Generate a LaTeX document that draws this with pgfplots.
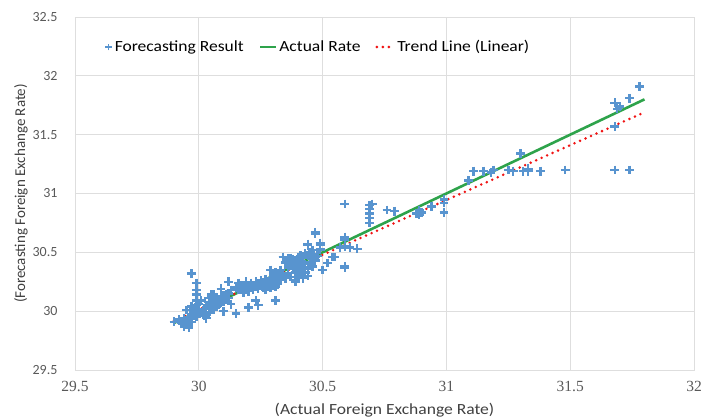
\documentclass[border=0pt]{standalone}
\usepackage{pgfplots}
\pgfplotsset{compat=1.18}
\usepackage{fontspec}
\setmainfont{Carlito}
\newfontfamily\widefont[FakeStretch=1.13]{Carlito}
\newfontfamily\xtickfont{Liberation Serif}
\definecolor{ptblue}{RGB}{88,148,207}
\definecolor{lgreen}{RGB}{46,163,75}
\definecolor{tred}{RGB}{240,20,20}
\definecolor{gridgray}{RGB}{222,222,222}
\definecolor{tickgray}{RGB}{89,89,89}
\definecolor{labgray}{RGB}{64,64,64}
\begin{document}
\begin{tikzpicture}
\begin{axis}[
  name=ax,
  scale only axis, width=619pt, height=353pt,
  xmin=29.5, xmax=32, ymin=29.5, ymax=32.5,
  xtick={29.5,30,30.5,31,31.5,32},
  ytick={29.5,30,30.5,31,31.5,32,32.5},
  grid=major, grid style={draw=gridgray, line width=0.8pt},
  axis line style={draw=gridgray, line width=0.8pt},
  major tick length=0pt,
  /pgf/number format/assume math mode=true,
  xticklabel style={font=\xtickfont\fontsize{15.5}{15.5}\selectfont, text=tickgray, yshift=-8pt},
  yticklabel style={font=\fontsize{14}{14}\selectfont, text=tickgray, xshift=-14pt},
  xlabel={(Actual Foreign Exchange Rate)},
  ylabel={(Forecasting Foreign Exchange Rate)},
  xlabel style={font=\widefont\fontsize{15.5}{15.5}\selectfont, text=labgray, yshift=-4pt},
  ylabel style={font=\fontsize{15}{15}\selectfont, text=labgray, yshift=-2pt},
  legend style={at={(rel axis cs:0.047,0.915)}, anchor=west, draw=none, fill=none,
    font=\widefont\fontsize{15.5}{15.5}\selectfont, text=black, inner sep=0pt,
    /tikz/every even column/.append style={column sep=13pt}},
  legend columns=-1,
]
\addplot[only marks, mark=+, mark size=4.4pt, mark options={line width=2.4pt, draw=ptblue},
  legend image code/.code={\draw[ptblue, line width=1.9pt] (0pt,-3.3pt)--(0pt,3.3pt) (-3.3pt,0pt)--(3.3pt,0pt);}]
table[row sep=\\]{
x y\\
31.78 31.91\\ 31.74 31.81\\ 31.68 31.77\\ 31.69 31.72\\ 31.70 31.74\\ 31.68 31.57\\
31.68 31.20\\ 31.74 31.20\\ 31.48 31.20\\ 31.38 31.19\\ 31.33 31.19\\ 31.33 31.21\\
31.31 31.19\\ 31.30 31.34\\ 31.27 31.19\\ 31.25 31.20\\ 31.19 31.20\\ 31.18 31.18\\
31.15 31.19\\ 31.11 31.19\\ 31.09 31.11\\
30.99 30.95\\ 30.99 30.92\\ 30.99 30.84\\ 30.94 30.89\\ 30.89 30.86\\ 30.88 30.83\\
30.89 30.82\\ 30.90 30.84\\ 30.79 30.85\\ 30.76 30.86\\ 30.69 30.90\\ 30.70 30.91\\
30.69 30.87\\ 30.69 30.83\\ 30.69 30.79\\ 30.69 30.75\\ 30.59 30.91\\ 30.64 30.53\\
30.61 30.54\\ 30.59 30.55\\ 30.57 30.54\\ 30.59 30.61\\ 30.59 30.63\\ 30.59 30.37\\
30.54 30.46\\ 30.52 30.41\\ 30.50 30.35\\ 30.47 30.67\\ 30.49 30.57\\ 30.44 30.57\\
30.49 30.58\\ 30.49 30.52\\ 30.46 30.52\\
30.34 30.46\\ 30.36 30.45\\ 30.38 30.44\\ 30.40 30.46\\ 30.42 30.45\\ 30.44 30.47\\
30.46 30.45\\ 30.35 30.42\\ 30.37 30.40\\ 30.39 30.41\\ 30.41 30.42\\ 30.43 30.40\\
30.45 30.42\\ 30.36 30.37\\ 30.38 30.36\\ 30.40 30.38\\ 30.42 30.37\\ 30.44 30.36\\
30.46 30.38\\ 30.39 30.33\\ 30.41 30.32\\ 30.43 30.33\\ 30.40 30.29\\ 30.42 30.28\\
30.44 30.30\\ 30.39 30.26\\ 30.33 30.35\\ 30.32 30.31\\ 30.31 30.33\\ 30.34 30.30\\
30.36 30.32\\ 30.35 30.28\\ 30.37 30.29\\ 30.47 30.43\\ 30.48 30.47\\ 30.45 30.50\\
30.43 30.49\\ 30.41 30.47\\
30.16 30.18\\ 30.18 30.19\\ 30.20 30.20\\ 30.22 30.21\\ 30.24 30.22\\ 30.26 30.23\\
30.28 30.24\\ 30.30 30.25\\ 30.32 30.26\\ 30.17 30.22\\ 30.19 30.24\\ 30.21 30.23\\
30.23 30.25\\ 30.25 30.26\\ 30.27 30.27\\ 30.29 30.28\\ 30.31 30.28\\ 30.33 30.27\\
30.18 30.16\\ 30.20 30.17\\ 30.22 30.18\\ 30.24 30.19\\ 30.26 30.20\\ 30.28 30.21\\
30.30 30.22\\ 30.32 30.23\\ 30.27 30.18\\ 30.29 30.20\\ 30.31 30.21\\ 30.15 30.20\\
30.13 30.18\\
29.92 29.93\\ 29.94 29.94\\ 29.95 29.92\\ 29.96 29.95\\ 29.97 29.97\\ 29.98 29.96\\
29.93 29.90\\ 29.95 29.89\\ 29.97 29.91\\ 29.99 29.98\\ 30.00 30.00\\ 30.01 29.99\\
30.02 30.02\\ 30.03 30.03\\ 30.04 30.05\\ 30.05 30.06\\ 30.06 30.08\\ 30.07 30.09\\
30.08 30.10\\ 30.09 30.12\\ 30.10 30.13\\ 30.11 30.14\\ 30.12 30.15\\ 30.04 30.11\\
30.05 30.13\\ 30.06 30.14\\ 30.07 30.12\\ 30.08 30.06\\ 30.09 30.07\\ 30.10 30.08\\
30.11 30.10\\ 30.12 30.11\\ 30.03 29.97\\ 30.02 29.96\\ 30.04 29.99\\ 30.06 30.01\\
30.07 30.04\\ 30.13 30.06\\ 29.98 30.02\\ 29.97 30.04\\ 30.00 30.06\\ 30.01 30.09\\
29.90 29.91\\ 29.92 29.92\\ 29.94 29.90\\ 29.94 29.87\\ 29.96 29.86\\ 29.96 29.92\\
29.95 30.01\\ 29.97 29.95\\ 29.97 30.32\\ 29.99 30.24\\ 29.99 30.18\\ 29.99 30.14\\
29.99 30.09\\ 29.99 30.05\\ 29.98 29.99\\ 29.99 29.95\\ 30.02 30.02\\ 30.02 29.98\\
30.03 29.94\\ 30.04 30.08\\ 30.05 30.14\\ 30.04 30.11\\ 30.06 30.09\\ 30.07 30.05\\
30.06 30.04\\ 30.09 30.19\\ 30.10 30.00\\ 30.12 30.25\\ 30.13 30.18\\ 30.15 29.98\\
30.16 30.24\\ 30.17 30.21\\ 30.19 30.25\\ 30.21 30.24\\ 30.20 30.03\\ 30.23 30.25\\
30.23 30.09\\ 30.24 30.05\\ 30.25 30.26\\ 30.27 30.25\\ 30.29 30.35\\ 30.31 30.09\\
30.30 30.29\\ 30.33 30.32\\ 30.34 30.46\\ 30.35 30.41\\ 30.37 30.45\\ 30.38 30.38\\
30.39 30.29\\ 30.39 30.25\\ 30.40 30.35\\ 30.42 30.42\\ 30.44 30.56\\ 30.45 30.49\\
30.47 30.66\\ 30.47 30.46\\ 30.49 30.53\\ 30.49 30.56\\ 30.50 30.35\\ 30.52 30.41\\
30.55 30.46\\ 30.59 30.62\\ 30.59 30.38\\
};
\addlegendentry{Forecasting Result}
\addplot[lgreen, line width=2.6pt,
  legend image code/.code={\draw[lgreen, line width=2.6pt] (0pt,0pt)--(16pt,0pt);}]
coordinates {(29.9,29.9) (31.8,31.8)};
\addlegendentry{Actual Rate}
\addplot[tred, line width=2.8pt, line cap=round, dash pattern=on 0pt off 6pt,
  legend image code/.code={\draw[tred, line width=2.8pt, line cap=round, dash pattern=on 0pt off 6pt] (1pt,0pt)--(18pt,0pt);}]
coordinates {(29.9,29.92) (31.8,31.69)};
\addlegendentry{Trend Line (Linear)}
\end{axis}
\pgfresetboundingbox
\path (ax.south west) ++(-75pt,-50pt) rectangle ++(701pt,420pt);
\end{tikzpicture}
\end{document}
